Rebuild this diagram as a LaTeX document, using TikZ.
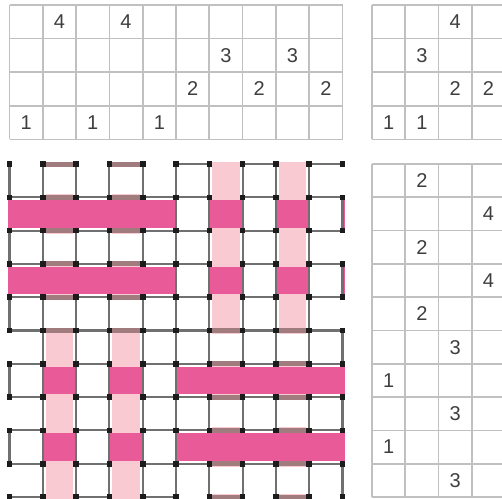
\documentclass[tikz,border=0pt]{standalone}
\usepackage{fontspec}
\setmainfont{Liberation Sans}
\definecolor{darkthread}{RGB}{232,90,152}
\definecolor{lightthread}{RGB}{250,202,210}
\definecolor{edgebrown}{RGB}{160,124,126}
\definecolor{edgegray}{RGB}{112,112,112}
\definecolor{cluegray}{RGB}{192,192,192}
\definecolor{cluetext}{RGB}{62,62,62}
\definecolor{knotblack}{RGB}{28,28,28}
\begin{document}
\begin{tikzpicture}[x=1pt,y=-1pt,
    cluerule/.style={draw=cluegray,line width=1.7pt},
    clue/.style={text=cluetext,inner sep=0pt,font=\fontsize{20}{24}\selectfont},
    edge/.style={draw=edgegray,line width=2.1pt},
    brownedge/.style={draw=edgebrown,line width=5pt}]
  \useasboundingbox (0,0) rectangle (502,498);
  \clip (0,0) rectangle (502,498);
  \def\cs{33.3}  % cell size
  \def\gx{9.5}   % left edge of weave and column clues
  \def\gy{164}   % top edge of weave and row clues
  \def\rx{372}   % left edge of the clues on the right
  \def\ch{33.6}  % row height of the column clues
  \def\pinkline{{0,1,0,1,0,0,1,0,1,0}}
  % 1 = weft on top, 0 = warp on top
  \def\crossings{0/{0,1,0,1,0,1,0,1,0,1},1/{1,1,1,1,1,0,1,0,1,0},
    2/{0,1,0,1,0,1,0,1,0,1},3/{1,1,1,1,1,0,1,0,1,0},
    4/{0,1,0,1,0,1,0,1,0,1},5/{1,0,1,0,1,0,1,0,1,0},
    6/{0,1,0,1,0,1,1,1,1,1},7/{1,0,1,0,1,0,1,0,1,0},
    8/{0,1,0,1,0,1,1,1,1,1},9/{1,0,1,0,1,0,1,0,1,0}}

  %% column clues
  \foreach \i in {0,...,10}
    \draw[cluerule] (\gx+\i*\cs,5) -- (\gx+\i*\cs,5+4*\ch);
  \foreach \j in {0,...,4}
    \draw[cluerule] (\gx,5+\j*\ch) -- (\gx+10*\cs,5+\j*\ch);
  \foreach \c/\r/\v in {1/0/4,3/0/4,6/1/3,8/1/3,5/2/2,7/2/2,9/2/2,0/3/1,2/3/1,4/3/1}
    \node[clue] (top-\c-\r) at (\gx+\c*\cs+\cs/2,5+\r*\ch+\ch/2) {\v};

  %% corner clues
  \foreach \i in {0,...,4}
    \draw[cluerule] (\rx+\i*\cs,5) -- (\rx+\i*\cs,5+4*\ch);
  \foreach \j in {0,...,4}
    \draw[cluerule] (\rx,5+\j*\ch) -- (\rx+4*\cs+5,5+\j*\ch);
  \foreach \c/\r/\v in {2/0/4,1/1/3,2/2/2,3/2/2,0/3/1,1/3/1}
    \node[clue] (key-\c-\r) at (\rx+\c*\cs+\cs/2,5+\r*\ch+\ch/2) {\v};

  %% row clues
  \foreach \i in {0,...,4}
    \draw[cluerule] (\rx+\i*\cs,\gy) -- (\rx+\i*\cs,\gy+10*\cs);
  \foreach \j in {0,...,10}
    \draw[cluerule] (\rx,\gy+\j*\cs) -- (\rx+4*\cs+5,\gy+\j*\cs);
  \foreach \c/\r/\v in {1/0/2,3/1/4,1/2/2,3/3/4,1/4/2,2/5/3,0/6/1,2/7/3,0/8/1,2/9/3}
    \node[clue] (side-\c-\r) at (\rx+\c*\cs+\cs/2,\gy+\r*\cs+\cs/2) {\v};

  %% coloured threads underneath
  \foreach \c in {1,3,6,8}
    \fill[lightthread] (\gx+\c*\cs+3,\gy-2) rectangle (\gx+\c*\cs+\cs-3,\gy+10*\cs+2);
  \foreach \r in {1,3,6,8}
    \fill[darkthread] (\gx-2,\gy+\r*\cs+3) rectangle (\gx+10*\cs+2,\gy+\r*\cs+\cs-3);

  %% crossings: fills
  \foreach \r/\over in \crossings
    \foreach \h [count=\c from 0] in \over {
      \pgfmathsetmacro\xa{\gx+\c*\cs}
      \pgfmathsetmacro\xb{\xa+\cs}
      \pgfmathsetmacro\ya{\gy+\r*\cs}
      \pgfmathsetmacro\yb{\ya+\cs}
      \pgfmathtruncatemacro\cp{\pinkline[\c]}
      \pgfmathtruncatemacro\rp{\pinkline[\r]}
      \ifnum\h=0
        \fill[white] (\xa,\ya) rectangle (\xb,\yb);
        \ifnum\cp=1 \fill[lightthread] (\xa+3,\ya) rectangle (\xb-3,\yb); \fi
      \else
        \ifnum\rp=1
          \fill[darkthread] (\xa,\ya+3) rectangle (\xb,\yb-3);
        \else
          \fill[white] (\xa,\ya+3) rectangle (\xb,\yb-3);
        \fi
      \fi
    }

  %% crossings: thread edges
  \foreach \r/\over in \crossings
    \foreach \h [count=\c from 0] in \over {
      \pgfmathsetmacro\xa{\gx+\c*\cs}
      \pgfmathsetmacro\xb{\xa+\cs}
      \pgfmathsetmacro\ya{\gy+\r*\cs}
      \pgfmathsetmacro\yb{\ya+\cs}
      \pgfmathtruncatemacro\cp{\pinkline[\c]}
      \pgfmathtruncatemacro\rp{\pinkline[\r]}
      \ifnum\h=0
        \draw[edge] (\xa,\ya) -- (\xa,\yb) (\xb,\ya) -- (\xb,\yb);
      \else
        \ifnum\cp=1
          \ifnum\rp=0 \draw[brownedge] (\xa,\ya) -- (\xb,\ya) (\xa,\yb) -- (\xb,\yb); \fi
        \else
          \draw[edge] (\xa,\ya) -- (\xb,\ya) (\xa,\yb) -- (\xb,\yb);
        \fi
      \fi
    }

  %% knots at the grid points
  \foreach \i in {0,...,10}
    \foreach \j in {0,...,10}
      \fill[knotblack] (\gx+\i*\cs-2.8,\gy+\j*\cs-2.8) rectangle ++(5.6,5.6);
\end{tikzpicture}
\end{document}
